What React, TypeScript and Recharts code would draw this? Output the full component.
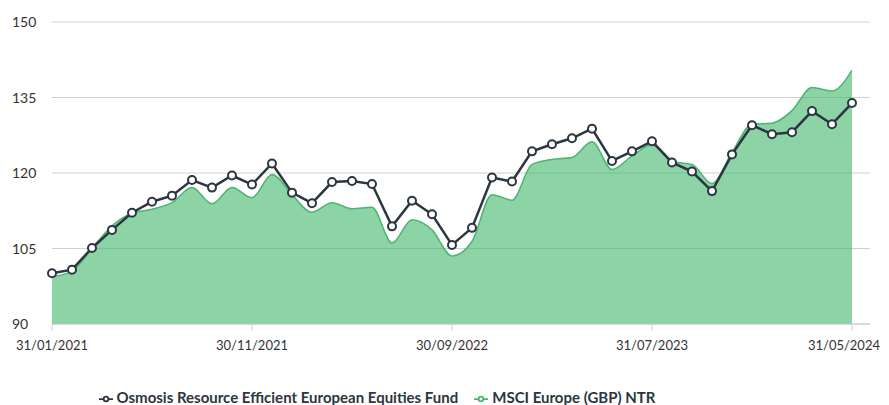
import {
  ComposedChart, Area, Line, XAxis, YAxis, CartesianGrid, Legend
} from "recharts";

const DATES = [
  "31/01/2021", "28/02/2021", "31/03/2021", "30/04/2021", "31/05/2021", "30/06/2021",
  "31/07/2021", "31/08/2021", "30/09/2021", "31/10/2021", "30/11/2021", "31/12/2021",
  "31/01/2022", "28/02/2022", "31/03/2022", "30/04/2022", "31/05/2022", "30/06/2022",
  "31/07/2022", "31/08/2022", "30/09/2022", "31/10/2022", "30/11/2022", "31/12/2022",
  "31/01/2023", "28/02/2023", "31/03/2023", "30/04/2023", "31/05/2023", "30/06/2023",
  "31/07/2023", "31/08/2023", "30/09/2023", "31/10/2023", "30/11/2023", "31/12/2023",
  "31/01/2024", "29/02/2024", "31/03/2024", "30/04/2024", "31/05/2024",
];

const FUND = [
  100.1, 100.8, 105.1, 108.7, 112.1, 114.3, 115.5, 118.6, 117.1, 119.5,
  117.7, 121.9, 116.1, 114.0, 118.2, 118.4, 117.8, 109.4, 114.5, 111.8,
  105.7, 109.1, 119.1, 118.3, 124.3, 125.7, 126.9, 128.8, 122.4, 124.3,
  126.3, 122.1, 120.3, 116.4, 123.7, 129.5, 127.7, 128.1, 132.3, 129.7,
  133.9,
];

const MSCI = [
  99.4, 100.5, 105.0, 109.5, 112.0, 112.8, 114.1, 117.1, 113.9, 117.1,
  115.1, 119.7, 115.7, 112.2, 114.1, 112.9, 113.2, 106.1, 110.7, 108.7,
  103.5, 106.4, 115.7, 114.6, 121.7, 122.7, 123.1, 126.2, 120.7, 123.4,
  125.6, 122.3, 121.7, 117.9, 124.1, 129.7, 129.9, 132.4, 137.0, 136.3,
  140.4,
];

const Y_TICKS = [90, 105, 120, 135, 150];

const FUND_NAME = "Osmosis Resource Efficient European Equities Fund";
const MSCI_NAME = "MSCI Europe (GBP) NTR";

const data = DATES.map((d, i) => ({ date: d, fund: FUND[i], msci: MSCI[i] }));

const FONT = "Lato, 'Open Sans', sans-serif";
const DARK = "#2b3640";
const LAST_DATE = DATES[DATES.length - 1];

// y labels sit left-aligned at the edge, not against the axis
function YTick({ y, payload }: any) {
  return (
    <text x={4} y={y} dy={5} fontSize={14} fill="#333" fontFamily={FONT} textAnchor="start">
      {payload.value}
    </text>
  );
}

// last date would run off the right edge, so right-align it
function XTick({ x, y, payload }: any) {
  const last = payload.value === LAST_DATE;
  return (
    <text
      x={last ? x + 28 : x}
      y={y}
      dy={17}
      fontSize={13}
      fill="#333"
      fontFamily={FONT}
      textAnchor={last ? "end" : "middle"}
    >
      {payload.value}
    </text>
  );
}

export default function App() {
  return (
    <div style={{ width: 881, height: 397, fontFamily: FONT }}>
      <style>{`html, body { overflow: hidden; }`}</style>
      <ComposedChart
        width={881}
        height={400}
        data={data}
        margin={{ top: 14, right: 19, left: 0, bottom: 0 }}
      >
        <CartesianGrid vertical={false} stroke="#d0d0d0" />
        <XAxis
          dataKey="date"
          interval={9}
          padding={{ left: 0, right: 18 }}
          stroke="#cccccc"
          tickSize={7}
          height={64}
          tick={<XTick />}
        />
        <YAxis
          domain={[90, 150]}
          ticks={Y_TICKS}
          width={44}
          axisLine={false}
          tickLine={false}
          tick={<YTick />}
        />
        <Legend
          verticalAlign="bottom"
          height={20}
          iconSize={14}
          itemSorter={(item: any) => (item.dataKey === "fund" ? 0 : 1)}
          wrapperStyle={{ fontSize: 15, fontWeight: 700, fontFamily: FONT, left: 0, width: 754 }}
          formatter={(value) => (
            <span style={{ color: DARK, marginRight: 6 }}>{value}</span>
          )}
        />
        <Area
          type="monotone"
          dataKey="msci"
          name={MSCI_NAME}
          stroke="#4cb56f"
          strokeWidth={1.5}
          fill="#3fb56a"
          fillOpacity={0.6}
          legendType="line"
          isAnimationActive={false}
        />
        <Line
          type="linear"
          dataKey="fund"
          name={FUND_NAME}
          stroke={DARK}
          strokeWidth={2.5}
          dot={{ r: 4, fill: "#fff", stroke: DARK, strokeWidth: 2 }}
          legendType="line"
          isAnimationActive={false}
        />
      </ComposedChart>
    </div>
  );
}
